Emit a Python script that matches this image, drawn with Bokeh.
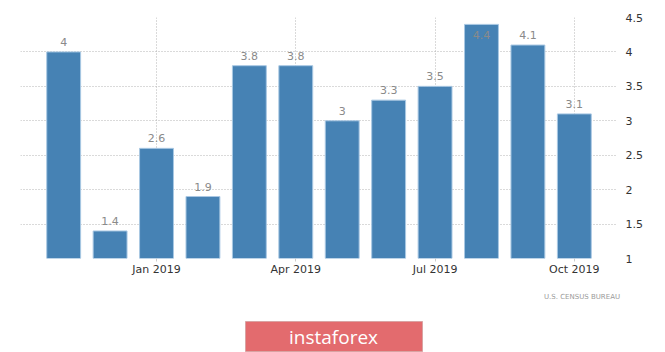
from bokeh.plotting import figure
from bokeh.models import ColumnDataSource, FixedTicker, Range1d
from bokeh.layouts import column
from bokeh.embed import file_html
from bokeh.resources import INLINE
from bokeh.core.properties import value

months = ["Nov 2018", "Dec 2018", "Jan 2019", "Feb 2019", "Mar 2019", "Apr 2019",
          "May 2019", "Jun 2019", "Jul 2019", "Aug 2019", "Sep 2019", "Oct 2019"]
values = [4.0, 1.4, 2.6, 1.9, 3.8, 3.8, 3.0, 3.3, 3.5, 4.4, 4.1, 3.1]
value_labels = ["4", "1.4", "2.6", "1.9", "3.8", "3.8", "3", "3.3", "3.5", "4.4", "4.1", "3.1"]
tick_months = ["Jan 2019", "Apr 2019", "Jul 2019", "Oct 2019"]
y_ticks = [1, 1.5, 2, 2.5, 3, 3.5, 4, 4.5]
source_text = "U.S.  CENSUS  BUREAU"
brand_text = "instaforex"

xs = list(range(len(months)))
y_min, y_max = 1.0, 4.5
label_offsets = [11 if v > 4.3 else -6 for v in values]
label_baselines = ["middle" if v > 4.3 else "bottom" for v in values]

src = ColumnDataSource(dict(x=xs, top=values, lab=value_labels, yoff=label_offsets,
                            base=label_baselines))

p = figure(width=665, height=280, output_backend="svg", toolbar_location=None,
           x_range=Range1d(-0.93, 11.93), y_range=Range1d(y_min, y_max),
           y_axis_location="right",
           min_border_left=20, min_border_right=48, min_border_top=17, min_border_bottom=22)
p.outline_line_color = None
p.background_fill_color = "white"
p.border_fill_color = "white"

p.vbar(x="x", top="top", bottom=y_min, width=0.73, source=src,
       fill_color="#4682B4", line_color="#A9C8E3", line_width=1)

p.text(x="x", y="top", text="lab", source=src, y_offset="yoff",
       text_align="center", text_baseline="base",
       text_font=value("DejaVu Sans"), text_font_size="11px", text_color="#8a8a8a")

tick_pos = [xs[months.index(m)] for m in tick_months]
p.xaxis.ticker = FixedTicker(ticks=tick_pos)
p.xaxis.major_label_overrides = {t: m for t, m in zip(tick_pos, tick_months)}
p.xaxis.axis_line_color = None
p.xaxis.major_tick_line_color = "#cccccc"
p.xaxis.major_tick_in = 0
p.xaxis.major_tick_out = 3
p.xaxis.minor_tick_line_color = None
p.xaxis.major_label_standoff = 1
p.xaxis.major_label_text_font = "DejaVu Sans"
p.xaxis.major_label_text_font_size = "11px"
p.xaxis.major_label_text_color = "#333333"

p.yaxis.ticker = FixedTicker(ticks=y_ticks)
p.yaxis.axis_line_color = None
p.yaxis.major_tick_line_color = None
p.yaxis.minor_tick_line_color = None
p.yaxis.major_label_standoff = 2
p.yaxis.major_label_text_font = "DejaVu Sans"
p.yaxis.major_label_text_font_size = "11px"
p.yaxis.major_label_text_color = "#333333"

p.xgrid.grid_line_color = "#b5b5b5"
p.xgrid.grid_line_dash = "1 2"
p.ygrid.grid_line_color = "#b5b5b5"
p.ygrid.grid_line_dash = "1 2"

# footer: source note and brand button (data units equal pixels; frame aligned at x=20)
f = figure(frame_width=645, frame_height=72, output_backend="svg", toolbar_location=None,
           x_range=Range1d(20, 665), y_range=Range1d(352, 280),
           min_border=0, min_border_left=0, min_border_right=0,
           min_border_top=0, min_border_bottom=0)
f.axis.visible = False
f.grid.visible = False
f.outline_line_color = None
f.background_fill_color = "white"
f.border_fill_color = "white"

f.text(x=[624], y=[296], text=[source_text], text_align="right", text_baseline="middle",
       text_font=value("DejaVu Sans"), text_font_size="7px", text_color="#9a9a9a")
f.quad(left=[245], right=[422], top=[321], bottom=[351],
       fill_color="#E36B6E", line_color="#D9A3A3", line_width=1)
f.text(x=[333], y=[336], text=[brand_text], text_align="center", text_baseline="middle",
       text_font=value("Open Sans"), text_font_size="19px", text_color="white")

layout = column(p, f, spacing=0)
open("out.html", "w").write(file_html(layout, INLINE))
